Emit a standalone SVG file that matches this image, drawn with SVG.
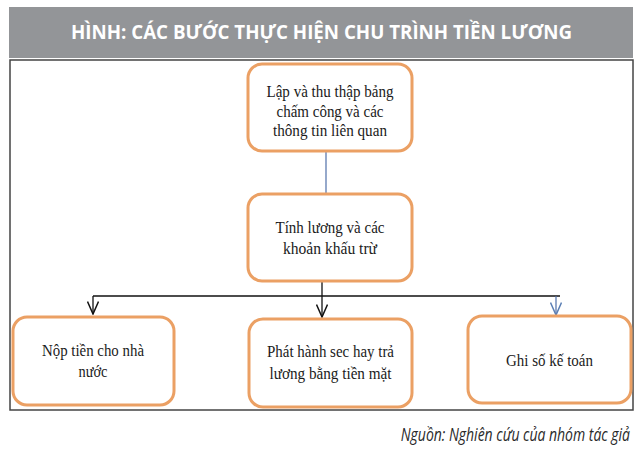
<svg xmlns="http://www.w3.org/2000/svg" width="641" height="450" viewBox="0 0 641 450">
<style>
.box{fill:#fff;stroke:#EBA064;stroke-width:3}
.t{font-family:"Liberation Serif",serif;font-size:16.5px;fill:#1a1a1a;text-anchor:middle}
.ln{stroke:#111;stroke-width:1.3;fill:none}
.bl{stroke:#4F6FA8;stroke-width:1.2;fill:none}
</style>
<defs>
<marker id="ab" viewBox="0 0 14 12" refX="13" refY="6" markerWidth="14" markerHeight="12" markerUnits="userSpaceOnUse" orient="auto">
<path d="M0.5,0.5 L13,6 L0.5,11.5" fill="none" stroke="#111" stroke-width="1.5"/>
</marker>
<marker id="abb" viewBox="0 0 14 12" refX="13" refY="6" markerWidth="14" markerHeight="12" markerUnits="userSpaceOnUse" orient="auto">
<path d="M0.5,0.5 L13,6 L0.5,11.5" fill="none" stroke="#5B7FB5" stroke-width="1.5"/>
</marker>
</defs>
<rect width="641" height="450" fill="#fff"/>
<g id="header">
<rect x="9" y="7" width="624" height="51" fill="#939598"/>
<text x="321.5" y="38.5" font-family="'Open Sans',sans-serif" font-weight="bold" font-size="19" fill="#fff" text-anchor="middle" textLength="501" lengthAdjust="spacingAndGlyphs">HÌNH: CÁC BƯỚC THỰC HIỆN CHU TRÌNH TIỀN LƯƠNG</text>
</g>
<rect id="frame" x="10" y="60" width="623" height="350" fill="none" stroke="#444" stroke-width="1.5"/>
<g id="connectors">
<line class="bl" x1="326" y1="152" x2="326" y2="193"/>
<line class="ln" x1="322" y1="281" x2="322" y2="317" marker-end="url(#ab)"/>
<line class="ln" x1="93" y1="296" x2="560" y2="296"/>
<line class="ln" x1="93" y1="296" x2="93" y2="314" marker-end="url(#ab)"/>
<line class="bl" x1="556" y1="296" x2="556" y2="315" marker-end="url(#abb)"/>
</g>
<g id="n1">
<rect class="box" x="248" y="64" width="164" height="87" rx="14"/>
<text class="t" x="330" y="97" textLength="127" lengthAdjust="spacingAndGlyphs">Lập và thu thập bảng</text>
<text class="t" x="330" y="116.5" textLength="107" lengthAdjust="spacingAndGlyphs">chấm công và các</text>
<text class="t" x="330" y="136" textLength="114" lengthAdjust="spacingAndGlyphs">thông tin liên quan</text>
</g>
<g id="n2">
<rect class="box" x="248" y="194" width="164" height="87" rx="14"/>
<text class="t" x="330" y="233" textLength="109" lengthAdjust="spacingAndGlyphs">Tính lương và các</text>
<text class="t" x="330" y="254" textLength="94" lengthAdjust="spacingAndGlyphs">khoản khấu trừ</text>
</g>
<g id="n3">
<rect class="box" x="13" y="317" width="161" height="88" rx="14"/>
<text class="t" x="93" y="356" textLength="102" lengthAdjust="spacingAndGlyphs">Nộp tiền cho nhà</text>
<text class="t" x="93" y="377" textLength="29" lengthAdjust="spacingAndGlyphs">nước</text>
</g>
<g id="n4">
<rect class="box" x="249" y="319" width="163" height="88" rx="14"/>
<text class="t" x="330.5" y="357" textLength="127" lengthAdjust="spacingAndGlyphs">Phát hành sec hay trả</text>
<text class="t" x="330.5" y="379" textLength="122" lengthAdjust="spacingAndGlyphs">lương bằng tiền mặt</text>
</g>
<g id="n5">
<rect class="box" x="468" y="316" width="163" height="87" rx="14"/>
<text class="t" x="549.5" y="366" textLength="87" lengthAdjust="spacingAndGlyphs">Ghi số kế toán</text>
</g>
<text id="source" transform="matrix(0.8 0 0 1 630 441)" x="0" y="0" font-family="'Open Sans',sans-serif" font-style="italic" font-size="17.5" fill="#2a2a2a" text-anchor="end">Nguồn: Nghiên cứu của nhóm tác giả</text>
</svg>
